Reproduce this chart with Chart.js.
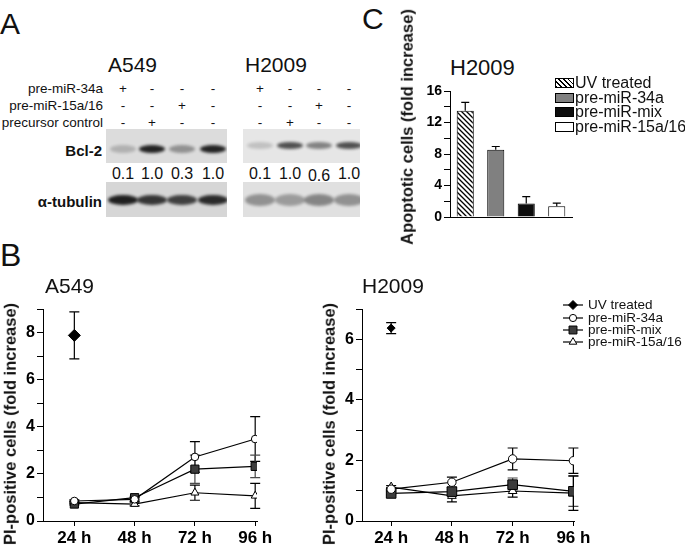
<!DOCTYPE html>
<html lang="en">
<head>
<meta charset="UTF-8">
<title>Bcl-2 knockdown and apoptosis</title>
<script src="https://cdn.jsdelivr.net/npm/chart.js@4.4.0/dist/chart.umd.min.js"></script>
<style>
    body { margin: 0; background: #fff; font-family: 'Liberation Sans', Arial, sans-serif; color: #111; }
    #fig { position: relative; width: 685px; height: 546px; overflow: hidden; }
    .t { position: absolute; white-space: nowrap; line-height: 1; }
    .ylab { position: absolute; white-space: nowrap; line-height: 1; font-weight: bold;
            transform: translate(-50%, -50%) rotate(-90deg); }
    canvas { position: absolute; }
    .blot { position: absolute; overflow: hidden; }
    .band { position: absolute; border-radius: 50%; background: #000; filter: blur(1.6px); }
    .lbox { position: absolute; width: 17px; height: 8px; border: 1px solid #000; }
</style>
</head>
<body>
<div id="fig">
    <canvas id="a549Chart" width="290" height="251" style="left:0; top:295px;"></canvas>
    <canvas id="h2009Chart" width="280" height="251" style="left:330px; top:295px;"></canvas>
    <canvas id="apoChart" width="190" height="160" style="left:395px; top:80px;"></canvas>
</div>

<script>
// ---- data ----
const timeLabels = ['24 h', '48 h', '72 h', '96 h'];
const seriesNames = ['UV treated', 'pre-miR-34a', 'pre-miR-mix', 'pre-miR-15a/16'];

// B, A549: PI-positive cells (fold increase), mean and error
const a549UV = [7.88, null, null, null];
const a549UVErr = [1.0, null, null, null];
const a549Mir34a = [0.85, 0.92, 2.72, 3.48];
const a549Mir34aErr = [0.05, 0.08, 0.65, 0.95];
const a549Mix = [0.72, 0.99, 2.2, 2.32];
const a549MixErr = [0.05, 0.06, 0.6, 0.48];
const a549Mir15a = [0.78, 0.72, 1.2, 1.07];
const a549Mir15aErr = [0.05, 0.08, 0.32, 0.53];

// B, H2009
const h2009UV = [6.37, null, null, null];
const h2009UVErr = [0.18, null, null, null];
const h2009Mir34a = [1.05, 1.28, 2.05, 1.99];
const h2009Mir34aErr = [0.05, 0.17, 0.36, 0.42];
const h2009Mix = [0.91, 0.97, 1.2, 0.98];
const h2009MixErr = [0.05, 0.12, 0.22, 0.5];
const h2009Mir15a = [1.12, 0.83, 0.99, 0.92];
const h2009Mir15aErr = [0.05, 0.2, 0.2, 0.57];

// C, H2009: apoptotic cells (fold increase)
const apoValues = [13.5, 8.55, 1.7, 1.35];
const apoErr = [1.05, 0.4, 0.9, 0.4];

// A, western blot lanes
const blotRows = ['pre-miR-34a', 'pre-miR-15a/16', 'precursor control'];
const laneSigns = [['+', '-', '-', '-'], ['-', '-', '+', '-'], ['-', '+', '-', '-']];
const bcl2A549 = [0.1, 1.0, 0.3, 1.0];
const bcl2H2009 = [0.1, 1.0, 0.6, 1.0];

// ---- helpers ----
const fig = document.getElementById('fig');
const FONT = "'Liberation Sans', Arial, sans-serif";

function text(str, x, y, size, anchor, extra) {
    const d = document.createElement('div');
    d.className = 't';
    d.textContent = str;
    d.style.left = x + 'px';
    d.style.top = y + 'px';
    d.style.fontSize = size + 'px';
    const tx = anchor === 'c' ? '-50%' : anchor === 'r' ? '-100%' : '0';
    d.style.transform = 'translate(' + tx + ', -50%)';
    if (extra) Object.assign(d.style, extra);
    fig.appendChild(d);
    return d;
}

function yTitle(str, cx, cy, size) {
    const d = document.createElement('div');
    d.className = 'ylab';
    d.textContent = str;
    d.style.left = cx + 'px';
    d.style.top = cy + 'px';
    d.style.fontSize = size + 'px';
    fig.appendChild(d);
}

// ---- panel A: blots ----
text('A', 0, 24, 30);
text('B', 0, 255, 32);
text('C', 362, 19, 30);

text('A549', 108, 64, 21);
text('H2009', 245, 64, 21);

const lanesA549 = [123, 152, 182, 213];
const lanesH2009 = [260, 290, 319, 349];
const rowY = [89, 106, 123];
blotRows.forEach((r, ri) => {
    text(r, 103, rowY[ri], 13.5, 'r');
    laneSigns[ri].forEach((s, li) => {
        text(s, lanesA549[li], rowY[ri], 13.5, 'c');
        text(s, lanesH2009[li], rowY[ri], 13.5, 'c');
    });
});

text('Bcl-2', 102, 150, 15, 'r', { fontWeight: 'bold' });
text('\u03b1-tubulin', 102, 201, 15, 'r', { fontWeight: 'bold' });

function blot(left, top, w, h, bg, lanes, bandY, bandW, bandH, alphas) {
    const b = document.createElement('div');
    b.className = 'blot';
    Object.assign(b.style, { left: left + 'px', top: top + 'px', width: w + 'px', height: h + 'px', background: bg });
    lanes.forEach((lx, i) => {
        const band = document.createElement('div');
        band.className = 'band';
        Object.assign(band.style, {
            left: (lx - left - bandW / 2) + 'px', top: (bandY - top - bandH / 2) + 'px',
            width: bandW + 'px', height: bandH + 'px', opacity: alphas[i]
        });
        b.appendChild(band);
    });
    fig.appendChild(b);
}

const darkness = q => 0.12 + 0.72 * q;
blot(106, 129, 121, 34, '#dcdcdc', lanesA549, 149, 26, 8, bcl2A549.map(darkness));
blot(243, 129, 117, 34, '#e6e6e6', lanesH2009, 145, 26, 7, bcl2H2009.map(q => 0.1 + 0.55 * q));
blot(106, 182, 121, 35, '#d6d6d6', lanesA549, 200, 30, 10, [0.85, 0.75, 0.7, 0.8]);
blot(243, 182, 117, 35, '#e0e0e0', lanesH2009, 200, 30, 12, [0.35, 0.3, 0.4, 0.35]);

bcl2A549.forEach((q, i) => text(q.toFixed(1), lanesA549[i], 174, 16, 'c'));
bcl2H2009.forEach((q, i) => text(q.toFixed(1), lanesH2009[i], i === 2 ? 176 : 174, 16, 'c'));

// ---- chart helpers ----
function drawErrorBars(chart, opts) {
    const ctx = chart.ctx;
    const yScale = chart.scales.y;
    chart.data.datasets.forEach((ds, di) => {
        if (!ds.errors) return;
        const meta = chart.getDatasetMeta(di);
        meta.data.forEach((el, i) => {
            const d = ds.data[i];
            const v = (d !== null && typeof d === 'object') ? d.y : d;
            const e = ds.errors[i];
            if (v == null || e == null) return;
            const top = yScale.getPixelForValue(v + e);
            const bot = opts.upOnly ? el.y : yScale.getPixelForValue(v - e);
            const w = opts.capHalf;
            ctx.save();
            ctx.strokeStyle = ds.errorColor || '#000';
            ctx.lineWidth = 1.2;
            ctx.beginPath();
            ctx.moveTo(el.x, top); ctx.lineTo(el.x, bot);
            ctx.moveTo(el.x - w, top); ctx.lineTo(el.x + w, top);
            if (!opts.upOnly) { ctx.moveTo(el.x - w, bot); ctx.lineTo(el.x + w, bot); }
            ctx.stroke();
            ctx.restore();
        });
    });
}

const errorBarPlugin = {
    id: 'errorBars',
    beforeDatasetsDraw(chart, args, opts) { if (!opts.onTop) drawErrorBars(chart, opts); },
    afterDatasetsDraw(chart, args, opts) { if (opts.onTop) drawErrorBars(chart, opts); }
};

function yAxis(max, step, labelEvery, size, width) {
    return {
        min: 0, max: max,
        afterBuildTicks: s => { s.ticks = []; for (let v = 0; v <= max; v += step) s.ticks.push({ value: v }); },
        afterFit: s => { s.width = width; },
        ticks: {
            autoSkip: false, padding: 2, color: '#000',
            font: { family: FONT, size: size, weight: 'bold' },
            callback: v => (v % labelEvery === 0 ? String(v) : '')
        },
        grid: { drawOnChartArea: false, drawTicks: true, tickLength: 6, color: '#000', lineWidth: 1 },
        border: { display: true, color: '#000', width: 1 }
    };
}

function timeAxis(min, max) {
    return {
        type: 'linear', min: min, max: max,
        afterBuildTicks: s => { s.ticks = timeLabels.map((_, i) => ({ value: i })); },
        afterFit: s => { s.height = 25; },
        ticks: {
            autoSkip: false, maxRotation: 0, padding: 2, color: '#000',
            font: { family: FONT, size: 17, weight: 'bold' },
            callback: v => timeLabels[v]
        },
        grid: { drawOnChartArea: false, drawTicks: true, tickLength: 5, color: '#000', lineWidth: 1 },
        border: { display: true, color: '#000', width: 1 }
    };
}

function lineSet(label, values, errors, marker) {
    return Object.assign({
        label: label,
        data: values.map((v, i) => ({ x: i, y: v })),
        errors: errors,
        borderColor: '#000',
        borderWidth: 1.2,
        pointBorderColor: '#000',
        pointBorderWidth: 1,
        tension: 0,
        spanGaps: false
    }, marker);
}

function markers(r) {
    return [
        { pointStyle: 'rectRot', pointBackgroundColor: '#000', pointRadius: r[0] },
        { pointStyle: 'circle', pointBackgroundColor: '#fff', pointRadius: r[1] },
        { pointStyle: 'rect', pointBackgroundColor: '#3c3c3c', pointRadius: r[2], errorColor: '#4a4a4a' },
        { pointStyle: 'triangle', pointBackgroundColor: '#fff', pointRadius: r[3] }
    ];
}

function lineChart(id, sets, yMax, xMin, xMax, yWidth, padRight, r) {
    const m = markers(r);
    new Chart(document.getElementById(id), {
        type: 'line',
        data: { datasets: sets.map((s, i) => lineSet(seriesNames[i], s[0], s[1], m[i])) },
        options: {
            responsive: false, animation: false, devicePixelRatio: 1,
            layout: { padding: { left: 0, right: padRight, top: 14, bottom: 0 } },
            plugins: { legend: { display: false }, tooltip: { enabled: false },
                       errorBars: { capHalf: 5, upOnly: false, onTop: false } },
            scales: { x: timeAxis(xMin, xMax), y: yAxis(yMax, 1, 2, 16, yWidth) }
        },
        plugins: [errorBarPlugin]
    });
}

// ---- panel B ----
text('A549', 45, 285, 21);
text('H2009', 362, 285, 21);
yTitle('PI-positive cells (fold increase)', 10, 424, 16.5);
yTitle('PI-positive cells (fold increase)', 329, 424, 16.5);

lineChart('a549Chart', [
    [a549UV, a549UVErr], [a549Mir34a, a549Mir34aErr], [a549Mix, a549MixErr], [a549Mir15a, a549Mir15aErr]
], 9, -0.52, 3.03, 43, 33, [6, 3.8, 5.8, 4.6]);

lineChart('h2009Chart', [
    [h2009UV, h2009UVErr], [h2009Mir34a, h2009Mir34aErr], [h2009Mix, h2009MixErr], [h2009Mir15a, h2009Mir15aErr]
], 7, -0.48, 3.01, 32, 36, [4, 4.2, 6.8, 5]);

// legend for B (line + marker icons)
const legendRowsB = [305, 317.5, 330, 342];
const iconStyles = markers([4.5, 3.6, 5.6, 4.4]);
seriesNames.forEach((name, i) => {
    const c = document.createElement('canvas');
    c.width = 22; c.height = 12;
    c.style.left = '562px';
    c.style.top = (legendRowsB[i] - 6) + 'px';
    const g = c.getContext('2d');
    g.strokeStyle = '#000'; g.lineWidth = 1.2;
    g.beginPath(); g.moveTo(1, 6); g.lineTo(21, 6); g.stroke();
    const st = iconStyles[i];
    g.fillStyle = st.pointBackgroundColor; g.lineWidth = 1;
    g.beginPath();
    const r = st.pointRadius, cx = 11, cy = 6;
    if (st.pointStyle === 'rectRot') { g.moveTo(cx, cy - r); g.lineTo(cx + r, cy); g.lineTo(cx, cy + r); g.lineTo(cx - r, cy); g.closePath(); }
    else if (st.pointStyle === 'circle') { g.arc(cx, cy, r, 0, Math.PI * 2); }
    else if (st.pointStyle === 'rect') { const s = r * Math.SQRT1_2; g.rect(cx - s, cy - s, 2 * s, 2 * s); }
    else { g.moveTo(cx, cy - r); g.lineTo(cx + r * 0.87, cy + r * 0.5); g.lineTo(cx - r * 0.87, cy + r * 0.5); g.closePath(); }
    g.fill(); g.stroke();
    fig.appendChild(c);
    text(name, 588, legendRowsB[i], 13.5);
});

// ---- panel C ----
text('H2009', 450, 68, 22);
yTitle('Apoptotic cells (fold increase)', 407, 127, 16.5);

function hatch() {
    const p = document.createElement('canvas');
    p.width = 5; p.height = 5;
    const g = p.getContext('2d');
    g.fillStyle = '#fff'; g.fillRect(0, 0, 5, 5);
    g.strokeStyle = '#000'; g.lineWidth = 1.3;
    g.beginPath();
    g.moveTo(-1, -1); g.lineTo(6, 6);
    g.moveTo(-1, 4); g.lineTo(1, 6);
    g.moveTo(4, -1); g.lineTo(6, 1);
    g.stroke();
    return g.createPattern(p, 'repeat');
}

const apoCanvas = document.getElementById('apoChart');
new Chart(apoCanvas, {
    type: 'bar',
    data: {
        labels: seriesNames,
        datasets: [{
            data: apoValues,
            errors: apoErr,
            backgroundColor: [hatch(), '#808080', '#0d0d0d', '#fff'],
            borderColor: '#000',
            borderWidth: 1,
            barPercentage: 0.56,
            categoryPercentage: 1
        }]
    },
    options: {
        responsive: false, animation: false, devicePixelRatio: 1,
        layout: { padding: { left: 0, right: 13, top: 11, bottom: 0 } },
        plugins: { legend: { display: false }, tooltip: { enabled: false },
                   errorBars: { capHalf: 4, upOnly: true, onTop: true } },
        scales: {
            x: {
                afterFit: s => { s.height = 23; },
                ticks: { display: false },
                grid: { display: false },
                border: { display: true, color: '#000', width: 1 }
            },
            y: yAxis(16, 2, 4, 14, 55)
        }
    },
    plugins: [errorBarPlugin]
});

// legend for C
const legendRowsC = [83, 98, 112, 127];
const boxFills = ['repeating-linear-gradient(45deg, #000 0 1.2px, #fff 1.2px 3.4px)', '#808080', '#0d0d0d', '#fff'];
seriesNames.forEach((name, i) => {
    const b = document.createElement('div');
    b.className = 'lbox';
    b.style.left = '555px';
    b.style.top = (legendRowsC[i] - 5) + 'px';
    b.style.background = boxFills[i];
    fig.appendChild(b);
    text(name, 575, legendRowsC[i], 16);
});
</script>
</body>
</html>
